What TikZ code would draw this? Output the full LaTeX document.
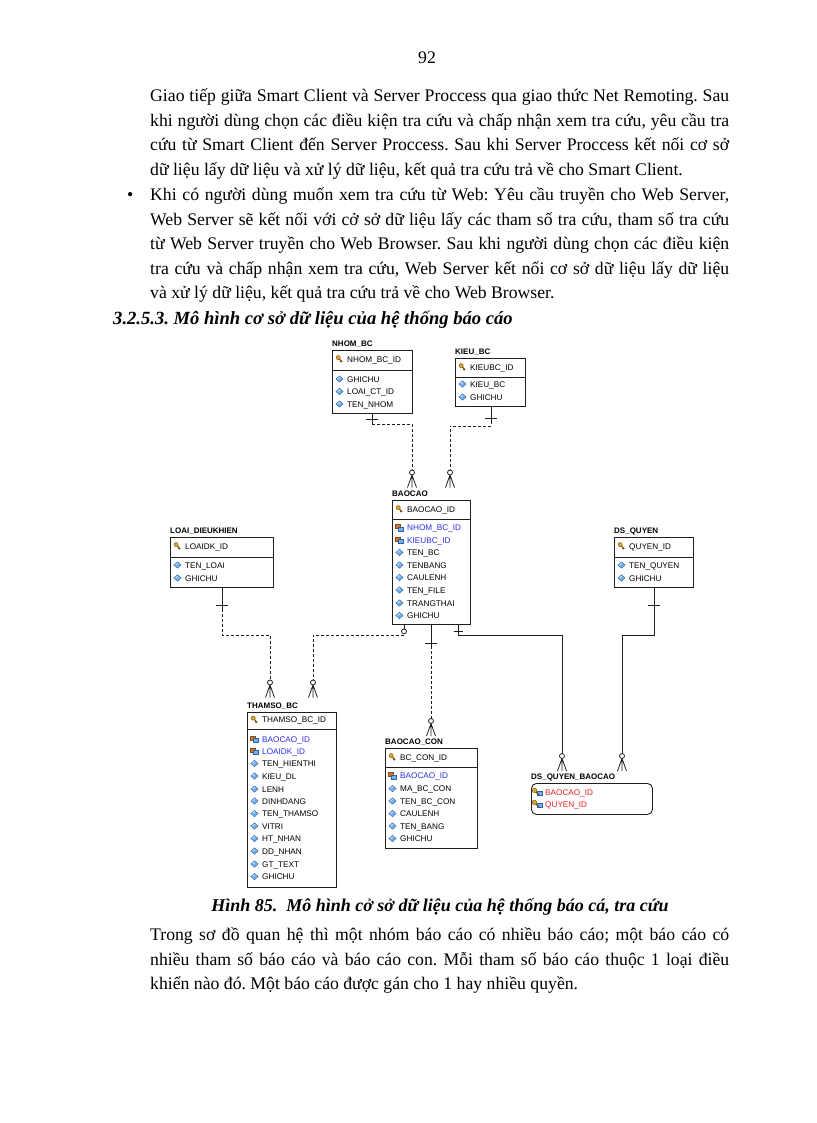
\documentclass[tikz,border=0pt]{standalone}
\usepackage{fontspec}
\setmainfont{Liberation Serif}
\newfontfamily\tblfont{Liberation Sans}
\usetikzlibrary{calc}
\definecolor{fkblue}{RGB}{45,45,235}
\definecolor{pkred}{RGB}{235,30,30}
\definecolor{attrfill}{RGB}{120,175,230}
\definecolor{attrdraw}{RGB}{40,100,180}
\definecolor{keygold}{RGB}{215,170,40}
\definecolor{keybrown}{RGB}{120,80,20}
\definecolor{fkorange}{RGB}{225,110,40}
\definecolor{lineblack}{RGB}{30,30,30}
\frenchspacing
\tikzset{
  tbl/.style={draw=lineblack, line width=0.9pt, fill=white, rectangle, inner sep=0pt, anchor=north west},
  ttl/.style={font=\tblfont\bfseries\fontsize{8}{9}\selectfont, anchor=base west, inner sep=0pt},
  rowt/.style={font=\tblfont\fontsize{8.2}{9}\selectfont, anchor=base west, inner sep=0pt, text=black},
  fkt/.style={rowt, text=fkblue},
  redt/.style={rowt, text=pkred},
  bodyfont/.style={font=\fontsize{17.7}{24.6}\selectfont},
  body/.style={bodyfont, anchor=base west, inner sep=0pt},
  ident/.style={line width=0.8pt, draw=lineblack},
  nonident/.style={ident, dash pattern=on 3pt off 2pt},
  divline/.style={draw=lineblack, line width=0.9pt},
  attricon/.pic={
    \filldraw[fill=attrfill, draw=attrdraw, line width=0.4pt] (-3.6,0) -- (0,-3.2) -- (3.6,0) -- (0,3.2) -- cycle;
    \fill[white, opacity=0.6] (-2.4,-0.2) -- (0,-2.3) -- (0.6,-1.6) -- (-1.6,0.3) -- cycle;},
  pkicon/.pic={
    \draw[keybrown, line width=1.1pt] (-0.5,-0.5) -- (2.6,2.8);
    \draw[keybrown, line width=0.8pt] (1.5,1.6) -- (0.5,2.6) (2.3,2.5) -- (1.4,3.4);
    \filldraw[fill=keygold, draw=keybrown, line width=0.4pt] (-1.3,-1.4) circle (2.1);},
  fkicon/.pic={
    \filldraw[fill=fkorange, draw=keybrown, line width=0.3pt] (-4,-3.2) rectangle (0.6,0.8);
    \filldraw[fill=attrfill, draw=attrdraw, line width=0.3pt] (-1,-0.4) rectangle (3.8,3.2);},
  pfkicon/.pic={
    \filldraw[fill=attrfill, draw=attrdraw, line width=0.3pt] (0,-1) rectangle (5,3.2);
    \draw[keybrown, line width=1.1pt] (-2.5,-1) -- (1.5,3);
    \filldraw[fill=keygold, draw=keybrown, line width=0.4pt] (-3,-1.6) circle (2.3);},
  crow/.pic={
    \draw[ident] (0,2.5) -- (-4.5,15) (0,2.5) -- (0,15) (0,2.5) -- (4.5,15);
    \filldraw[ident, fill=white] (0,0) circle (2.5);},
  oneopt/.pic={\filldraw[ident, fill=white] (0,0) circle (2.5);},
}
% #1 name, #2 text x, #3 row centre y, #4 icon, #5 text style, #6 text
\newcommand{\erow}[6]{\pic at (#2-7.5,#3) {#4}; \node[#5] (#1) at (#2,#3+3) {#6};}
% #1 name, #2 title, #3 left, #4 top, #5 width, #6 height, #7 divider offset
\newcommand{\ertable}[7]{%
  \node[ttl] (#1-title) at (#3,#4-4) {#2};
  \node[tbl, minimum width=#5pt, minimum height=#6pt] (#1) at (#3,#4) {};
  \draw[divline] (#1.north west) ++(0,#7) -- ++(#5,0);}
\begin{document}
\begin{tikzpicture}[x=1pt, y=-1pt]
\fill[white] (0,0) rectangle (816,1123);
\useasboundingbox (0,0) rectangle (816,1123);

% ---------- page text ----------
\node[bodyfont, anchor=base, inner sep=0pt] (pnum) at (427,63.5) {92};
\node[body] (p1a) at (150,101.5) {\makebox[579pt][s]{Giao tiếp giữa Smart Client và Server Proccess qua giao thức Net Remoting. Sau}};
\node[body] (p1b) at (150,126.1) {\makebox[579pt][s]{khi người dùng chọn các điều kiện tra cứu và chấp nhận xem tra cứu, yêu cầu tra}};
\node[body] (p1c) at (150,150.7) {\makebox[579pt][s]{cứu từ Smart Client đến Server Proccess. Sau khi Server Proccess kết nối cơ sở}};
\node[body] (p1d) at (150,175.3) {dữ liệu lấy dữ liệu và xử lý dữ liệu, kết quả tra cứu trả về cho Smart Client.};

\node[body] (bullet) at (127,200.5) {\textbullet};
\node[body] (p2a) at (150,200.5) {\makebox[579pt][s]{Khi có người dùng muốn xem tra cứu từ Web: Yêu cầu truyền cho Web Server,}};
\node[body] (p2b) at (150,225.1) {\makebox[579pt][s]{Web Server sẽ kết nối với cở sở dữ liệu lấy các tham số tra cứu, tham số tra cứu}};
\node[body] (p2c) at (150,249.7) {\makebox[579pt][s]{từ Web Server truyền cho Web Browser. Sau khi người dùng chọn các điều kiện}};
\node[body] (p2d) at (150,274.3) {\makebox[579pt][s]{tra cứu và chấp nhận xem tra cứu, Web Server kết nối cơ sở dữ liệu lấy dữ liệu}};
\node[body] (p2e) at (150,298.9) {và xử lý dữ liệu, kết quả tra cứu trả về cho Web Browser.};

\node[body, font=\fontsize{18.6}{24.6}\selectfont\bfseries\itshape] (head) at (113,324.5) {3.2.5.3. Mô hình cơ sở dữ liệu của hệ thống báo cáo};

\node[font=\fontsize{18}{24.6}\selectfont\bfseries\itshape, anchor=base, inner sep=0pt] (cap) at (440,911.5) {Hình 85.\ \ Mô hình cở sở dữ liệu của hệ thống báo cá, tra cứu};

\node[body] (p3a) at (150,940.5) {\makebox[579pt][s]{Trong sơ đồ quan hệ thì một nhóm báo cáo có nhiều báo cáo; một báo cáo có}};
\node[body] (p3b) at (150,965.1) {\makebox[579pt][s]{nhiều tham số báo cáo và báo cáo con. Mỗi tham số báo cáo thuộc 1 loại điều}};
\node[body] (p3c) at (150,989.7) {khiển nào đó. Một báo cáo được gán cho 1 hay nhiều quyền.};

% ---------- tables ----------
\ertable{nhom}{NHOM\_BC}{332}{350}{80}{63}{20}
\erow{nhom-pk}{347}{359}{pkicon}{rowt}{NHOM\_BC\_ID}
\erow{nhom-1}{347}{379}{attricon}{rowt}{GHICHU}
\erow{nhom-2}{347}{391.5}{attricon}{rowt}{LOAI\_CT\_ID}
\erow{nhom-3}{347}{404}{attricon}{rowt}{TEN\_NHOM}

\ertable{kieu}{KIEU\_BC}{455}{358}{70}{48}{19}
\erow{kieu-pk}{470}{367}{pkicon}{rowt}{KIEUBC\_ID}
\erow{kieu-1}{470}{384}{attricon}{rowt}{KIEU\_BC}
\erow{kieu-2}{470}{397}{attricon}{rowt}{GHICHU}

\ertable{baocao}{BAOCAO}{392}{500}{78}{124}{19}
\erow{baocao-pk}{407}{509}{pkicon}{rowt}{BAOCAO\_ID}
\erow{baocao-1}{407}{527.5}{fkicon}{fkt}{NHOM\_BC\_ID}
\erow{baocao-2}{407}{540}{fkicon}{fkt}{KIEUBC\_ID}
\erow{baocao-3}{407}{552.5}{attricon}{rowt}{TEN\_BC}
\erow{baocao-4}{407}{565}{attricon}{rowt}{TENBANG}
\erow{baocao-5}{407}{577.5}{attricon}{rowt}{CAULENH}
\erow{baocao-6}{407}{590}{attricon}{rowt}{TEN\_FILE}
\erow{baocao-7}{407}{603}{attricon}{rowt}{TRANGTHAI}
\erow{baocao-8}{407}{615.5}{attricon}{rowt}{GHICHU}

\ertable{loai}{LOAI\_DIEUKHIEN}{170}{537}{103}{50}{20}
\erow{loai-pk}{185}{546}{pkicon}{rowt}{LOAIDK\_ID}
\erow{loai-1}{185}{565}{attricon}{rowt}{TEN\_LOAI}
\erow{loai-2}{185}{578}{attricon}{rowt}{GHICHU}

\ertable{quyen}{DS\_QUYEN}{614}{537}{79}{50}{20}
\erow{quyen-pk}{629}{546}{pkicon}{rowt}{QUYEN\_ID}
\erow{quyen-1}{629}{565}{attricon}{rowt}{TEN\_QUYEN}
\erow{quyen-2}{629}{578}{attricon}{rowt}{GHICHU}

\ertable{thamso}{THAMSO\_BC}{247}{712}{89}{175}{17.5}
\erow{thamso-pk}{262}{719.5}{pkicon}{rowt}{THAMSO\_BC\_ID}
\erow{thamso-1}{262}{739}{fkicon}{fkt}{BAOCAO\_ID}
\erow{thamso-2}{262}{751}{fkicon}{fkt}{LOAIDK\_ID}
\erow{thamso-3}{262}{763.5}{attricon}{rowt}{TEN\_HIENTHI}
\erow{thamso-4}{262}{776}{attricon}{rowt}{KIEU\_DL}
\erow{thamso-5}{262}{789}{attricon}{rowt}{LENH}
\erow{thamso-6}{262}{801}{attricon}{rowt}{DINHDANG}
\erow{thamso-7}{262}{813.5}{attricon}{rowt}{TEN\_THAMSO}
\erow{thamso-8}{262}{826}{attricon}{rowt}{VITRI}
\erow{thamso-9}{262}{838.5}{attricon}{rowt}{HT\_NHAN}
\erow{thamso-10}{262}{851}{attricon}{rowt}{DD\_NHAN}
\erow{thamso-11}{262}{864}{attricon}{rowt}{GT\_TEXT}
\erow{thamso-12}{262}{876.5}{attricon}{rowt}{GHICHU}

\ertable{con}{BAOCAO\_CON}{385}{748}{92}{100}{19}
\erow{con-pk}{400}{757}{pkicon}{rowt}{BC\_CON\_ID}
\erow{con-1}{400}{775.5}{fkicon}{fkt}{BAOCAO\_ID}
\erow{con-2}{400}{788.5}{attricon}{rowt}{MA\_BC\_CON}
\erow{con-3}{400}{801}{attricon}{rowt}{TEN\_BC\_CON}
\erow{con-4}{400}{813.5}{attricon}{rowt}{CAULENH}
\erow{con-5}{400}{826}{attricon}{rowt}{TEN\_BANG}
\erow{con-6}{400}{838.5}{attricon}{rowt}{GHICHU}

\node[ttl] (dsqb-title) at (531,779) {DS\_QUYEN\_BAOCAO};
\node[tbl, rounded corners=5pt, minimum width=121pt, minimum height=31pt] (dsqb) at (531,783) {};
\erow{dsqb-1}{545}{792}{pfkicon}{redt}{BAOCAO\_ID}
\erow{dsqb-2}{545}{804}{pfkicon}{redt}{QUYEN\_ID}

% ---------- relationships ----------
% NHOM_BC -> BAOCAO
\draw[ident] (nhom.south) -- ++(0,10) coordinate (n1);
\draw[ident] ($(nhom.south)+(-6,5)$) -- ++(12,0);
\draw[nonident] (n1) -| ($(baocao.north west)+(20,-30)$) coordinate (n2);
\pic at ($(n2)+(0,2.5)$) {crow};
% KIEU_BC -> BAOCAO
\draw[ident] ([xshift=1pt]kieu.south) -- ++(0,14) coordinate (k1);
\draw[ident] ($(kieu.south)+(-5,11)$) -- ++(12,0);
\draw[nonident] (k1) -- ++(0,5) -| ($(baocao.north west)+(58,-30)$) coordinate (k2);
\pic at ($(k2)+(0,2.5)$) {crow};
% LOAI_DIEUKHIEN -> THAMSO_BC
\draw[ident] ([xshift=0.5pt]loai.south) -- ++(0,21) coordinate (l1);
\draw[ident] ($(loai.south)+(-5.5,17)$) -- ++(12,0);
\draw[nonident] (l1) -- ++(0,26) -| ($(thamso.north west)+(23,-32)$) coordinate (l2);
\pic at ($(l2)+(0,2.5)$) {crow};
% BAOCAO -> THAMSO_BC
\draw[ident] ($(baocao.south west)+(12,0)$) -- ++(0,4);
\draw[nonident] ($(baocao.south west)+(12,10)$) -| ($(thamso.north west)+(66,-32)$) coordinate (b1);
\pic at ($(baocao.south west)+(12,6.5)$) {oneopt};
\pic at ($(b1)+(0,2.5)$) {crow};
% BAOCAO -> BAOCAO_CON
\draw[ident] ($(baocao.south west)+(39,0)$) -- ++(0,21) coordinate (c1);
\draw[ident] ($(baocao.south west)+(33,18)$) -- ++(12,0);
\draw[nonident] (c1) -- ($(con.north west)+(46,-29.5)$) coordinate (c2);
\pic at ($(c2)+(0,2.5)$) {crow};
% BAOCAO -> DS_QUYEN_BAOCAO
\draw[ident] ($(baocao.south west)+(66,0)$) -- ++(0,10) -| ($(dsqb.north west)+(31,-29.5)$) coordinate (d1);
\draw[ident] ($(baocao.south west)+(62,6.5)$) -- ++(9,0);
\pic at ($(d1)+(0,2.5)$) {crow};
% DS_QUYEN -> DS_QUYEN_BAOCAO
\draw[ident] ([xshift=0.5pt]quyen.south) -- ++(0,47) -| ($(dsqb.north west)+(91,-29.5)$) coordinate (q1);
\draw[ident] ($(quyen.south)+(-5.5,17)$) -- ++(12,0);
\pic at ($(q1)+(0,2.5)$) {crow};
\end{tikzpicture}
\end{document}
